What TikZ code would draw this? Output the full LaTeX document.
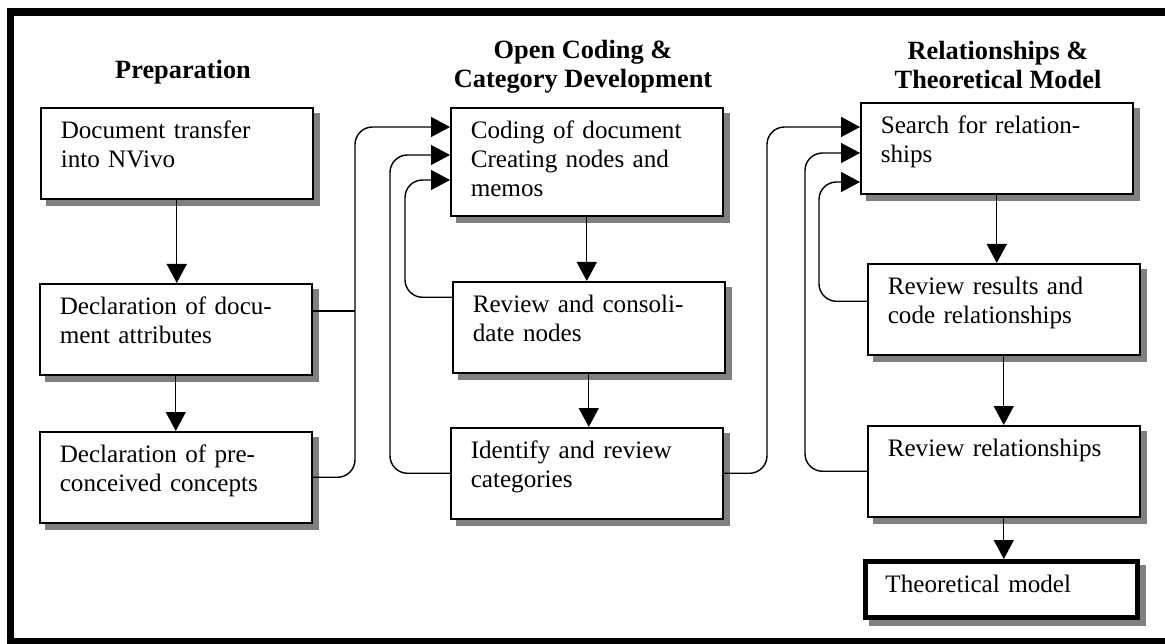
\documentclass[tikz,border=0pt]{standalone}
\usepackage{fontspec}
\setmainfont{Liberation Serif}
\usetikzlibrary{arrows.meta,backgrounds}

\begin{document}
\begin{tikzpicture}[
      x=0.02cm, y=-0.02cm,
      stagebox/.style={
        draw,
        line width=0.9pt,
        fill=white,
        anchor=north west,
        align=left,
        minimum width=5.44cm,
        text width=4.64cm,
        inner xsep=0.4cm,
        inner ysep=0.1cm,
        text height=0.52cm,
        text depth=1.1cm,
        font=\fontsize{14.3}{16.5}\selectfont
      },
      tallbox/.style={stagebox,text depth=1.44cm},
      finalbox/.style={stagebox,line width=2.8pt,text depth=0.4cm},
      boxshadow/.style={fill=black!50},
      stagehead/.style={font=\bfseries\fontsize{15}{16.5}\selectfont,align=center},
      plainline/.style={line width=0.8pt},
      flowarrow/.style={plainline,-{Triangle[length=0.38cm,width=0.4cm]}},
      loopline/.style={flowarrow,rounded corners=0.35cm},
      outerframe/.style={line width=4.3pt,line join=miter}
    ]
    \useasboundingbox (0,0) rectangle (1165,644);
    \draw[outerframe] (1200,12) -- (10.5,12) -- (10.5,642) -- (1200,642);

    % column headings
    \node[stagehead] (prephead) at (183,72) {Preparation};
    \node[stagehead] (codehead) at (583,67) {Open Coding \&\\Category Development};
    \node[stagehead] (relhead) at (998,65) {Relationships \&\\Theoretical Model};

    % preparation
    \node[stagebox] (transfer) at (40,107) {Document transfer\\into NVivo};
    \node[stagebox] (attrib) at (39,283) {Declaration of docu-\\ment attributes};
    \node[stagebox] (concepts) at (39,431) {Declaration of pre-\\conceived concepts};

    % open coding
    \node[tallbox] (coding) at (450,107) {Coding of document\\Creating nodes and\\memos};
    \node[stagebox] (consol) at (452,281) {Review and consoli-\\date nodes};
    \node[stagebox] (categ) at (450,427) {Identify and review\\categories};

    % relationships
    \node[stagebox] (search) at (860,102) {Search for relation-\\ships};
    \node[stagebox] (results) at (867,263) {Review results and\\code relationships};
    \node[stagebox] (review) at (867,425) {Review relationships};
    \node[finalbox] (model) at (863,559) {Theoretical model};

    % grey offset shadows behind the boxes
    \begin{scope}[on background layer]
      \foreach \nm in {transfer,attrib,concepts,coding,consol,categ,search,results,review,model}
        \fill[boxshadow] ([shift={(6,6)}]\nm.south west) rectangle ([shift={(6,6)}]\nm.north east);
    \end{scope}

    % turning points of the feedback lines
    \coordinate (busA) at (355,127);
    \coordinate (busB) at (390,155);
    \coordinate (busC) at (405,180);
    \coordinate (busD) at (767,127);
    \coordinate (busE) at (805,153);
    \coordinate (busF) at (819,182);
    \coordinate (joinA) at (355,311);

    \draw[flowarrow] (transfer.south) -- (transfer.south |- attrib.north);
    \draw[flowarrow] (attrib.south) -- (attrib.south |- concepts.north);
    \draw[flowarrow] (coding.south) -- (coding.south |- consol.north);
    \draw[flowarrow] (consol.south) -- (consol.south |- categ.north);
    \draw[flowarrow] (search.south) -- (search.south |- results.north);
    \draw[flowarrow] (results.south) -- (results.south |- review.north);
    \draw[flowarrow] (review.south) -- (review.south |- model.north);

    \draw[plainline] (attrib.east |- joinA) -- (joinA);
    \draw[loopline] (concepts.east) -| (busA) -- (coding.west |- busA);
    \draw[loopline] (categ.west) -| (busB) -- (coding.west |- busB);
    \draw[loopline] ([yshift=0.6cm]consol.west) -| (busC) -- (coding.west |- busC);

    \draw[loopline] (categ.east) -| (busD) -- (search.west |- busD);
    \draw[loopline] (review.west) -| (busE) -- (search.west |- busE);
    \draw[loopline] ([yshift=0.16cm]results.west) -| (busF) -- (search.west |- busF);
  \end{tikzpicture}
\end{document}
